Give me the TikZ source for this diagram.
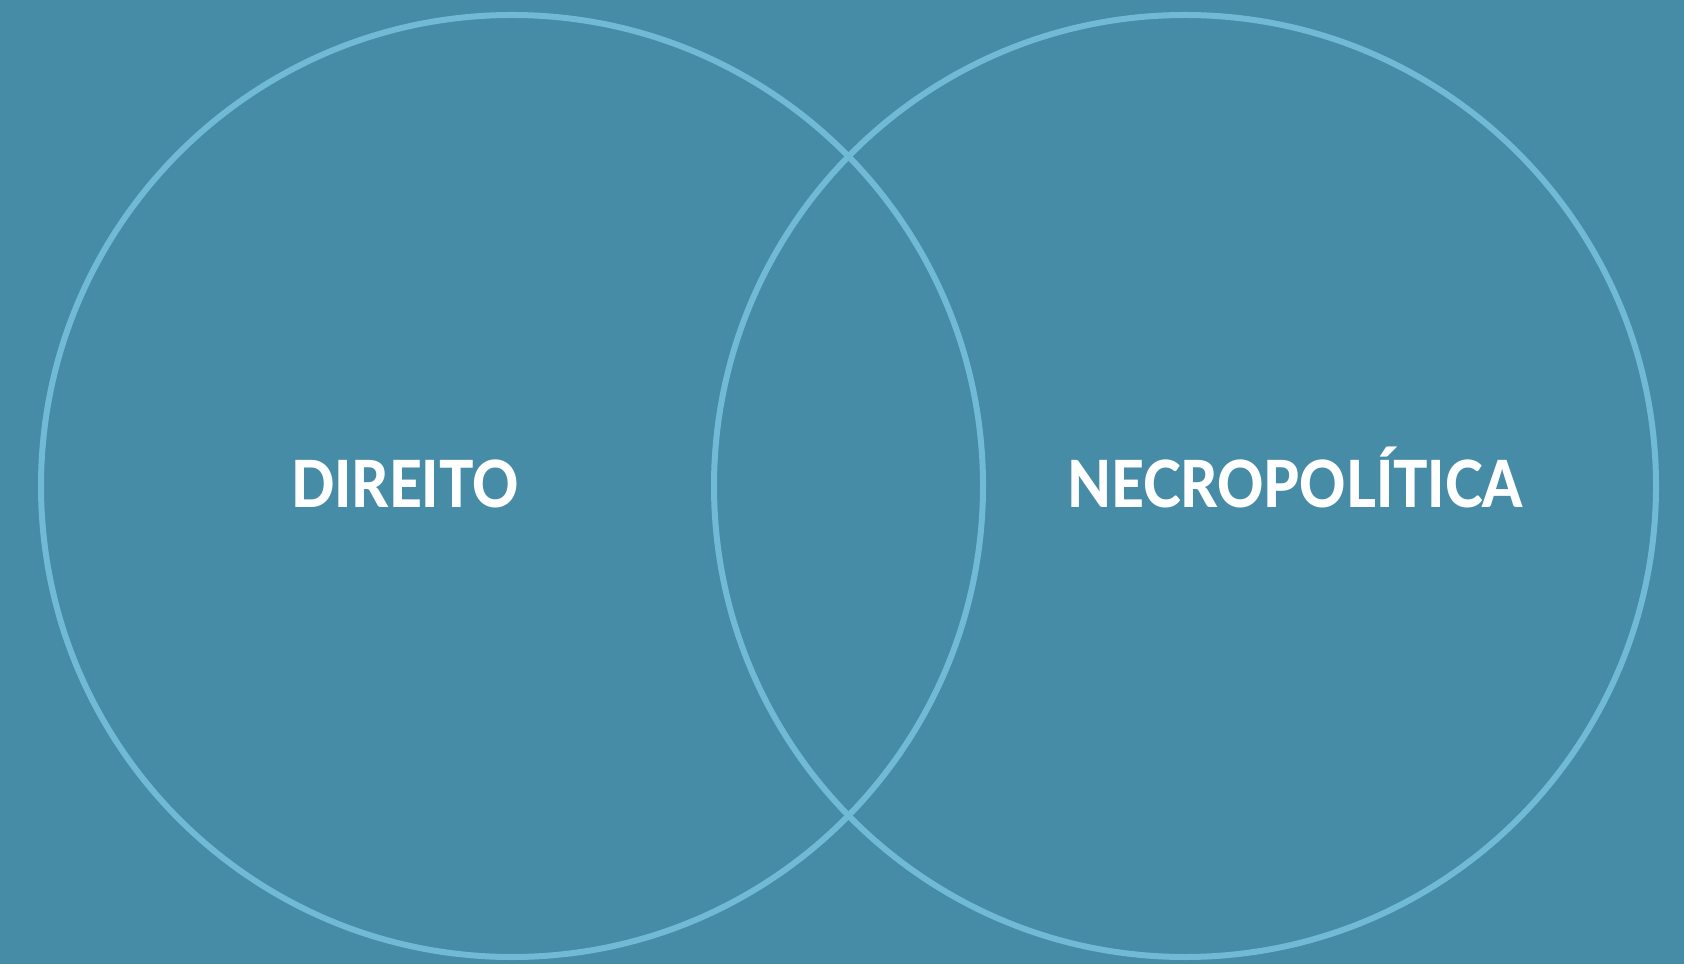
\documentclass[tikz,border=0pt]{standalone}
\usepackage{fontspec}
\setmainfont{Lato}[BoldFont={Lato Heavy}]
\usepackage{xcolor}
\definecolor{bgteal}{RGB}{71,140,166}
\definecolor{ringblue}{RGB}{112,186,214}
\newcommand{\narrowtext}[1]{\scalebox{0.88}[1]{#1}}
\tikzset{ring/.style={draw=ringblue,line width=3pt},
  label/.style={text=white,font=\fontsize{32.5}{36}\selectfont\bfseries,inner sep=0pt,anchor=base}}

\begin{document}
\begin{tikzpicture}[x=0.5pt,y=0.5pt]% one unit = one pixel of the reference
% background
\useasboundingbox (0,0) rectangle (1684,964);
\fill[bgteal] (0,0) rectangle (1684,964);
% the two sets
\draw[ring] (512,478) circle (471);
\draw[ring] (1185,478) circle (471);
% names
\node[label] (direito) at (405,456) {\narrowtext{DIREITO}};
\node[label] (necro) at (1295,456) {\narrowtext{NECROPOLÍTICA}};
\end{tikzpicture}
\end{document}
